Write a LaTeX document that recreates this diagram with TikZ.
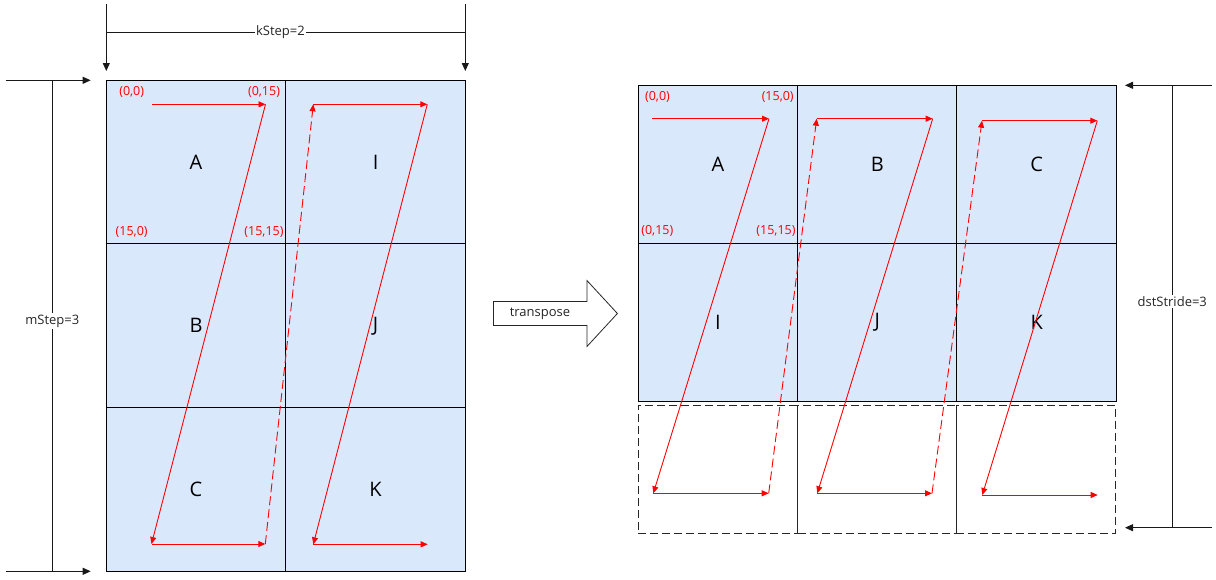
\documentclass[tikz,border=0pt]{standalone}
\usepackage{fontspec}
\setmainfont{Open Sans}
\usetikzlibrary{positioning, arrows.meta, shapes.arrows}
\definecolor{cellblue}{HTML}{DAE8FC}
\tikzstyle{lcell} = [rectangle, minimum width=179.5pt, minimum height=163.67pt, outer sep=0pt, draw=black, line width=1pt, fill=cellblue, font=\fontsize{20}{24}\selectfont]
\tikzstyle{rcell} = [lcell, minimum width=159.33pt, minimum height=158pt]
\tikzstyle{spare} = [rectangle, minimum width=159.33pt, minimum height=128.3pt, outer sep=0pt, draw=black!85, line width=1pt, dash pattern=on 8pt off 4pt]
\tikzstyle{idx} = [text=red, font=\fontsize{12.5}{15}\selectfont, inner sep=0pt]
\tikzstyle{arrow} = [red, line width=0.9pt, -{Triangle[length=7pt,width=6pt]}]
\tikzstyle{jump} = [arrow, dash pattern=on 9pt off 4pt]
\tikzstyle{dim} = [black!90, line width=1pt, -{Triangle[length=8pt,width=7pt]}]
\tikzstyle{dimline} = [black!90, line width=1pt]
\tikzstyle{dimtext} = [fill=white, inner sep=1.5pt, font=\fontsize{13}{15}\selectfont, text=black!85]
\tikzstyle{bigarrow} = [single arrow, draw=black!85, line width=0.8pt, fill=white, minimum height=124pt, minimum width=65pt, single arrow head extend=20.85pt, single arrow tip angle=94.6, inner xsep=0pt, inner ysep=11.65pt]
\tikzstyle{verb} = [font=\fontsize{13}{15}\selectfont, text=black!85]

\begin{document}
\begin{tikzpicture}[x=1pt, y=-1pt]
\useasboundingbox (0,0) rectangle (1216,579);
% source tiles
\node (srcA) [lcell] at (196.05,162.1) {A};
\node (srcI) [lcell, right=0pt of srcA] {I};
\node (srcB) [lcell, below=0pt of srcA] {B};
\node (srcJ) [lcell, right=0pt of srcB] {J};
\node (srcC) [lcell, below=0pt of srcB] {C};
\node (srcK) [lcell, right=0pt of srcC] {K};
% destination tiles
\node (dstA) [rcell] at (717.97,164.3) {A};
\node (dstB) [rcell, right=0pt of dstA] {B};
\node (dstC) [rcell, right=0pt of dstB] {C};
\node (dstI) [rcell, below=0pt of dstA] {I};
\node (dstJ) [rcell, right=0pt of dstI] {J};
\node (dstK) [rcell, right=0pt of dstJ] {K};
\node (padI) [spare, below=3.7pt of dstI] {};
\node (padJ) [spare, right=0pt of padI, minimum width=158.4pt] {};
\node (padK) [spare, right=0pt of padJ] {};
% transpose
\node (tp) [bigarrow, anchor=tail] at (493,313.5) {};
\node (tplabel) [verb] at (540,313.5) {transpose};
% index labels
\node (s00) [idx] at (131.7,91.7) {(0,0)};
\node (s015) [idx] at (264,92) {(0,15)};
\node (s150) [idx] at (131.7,232.3) {(15,0)};
\node (s1515) [idx] at (264,232) {(15,15)};
\node (d00) [idx] at (657.5,96.7) {(0,0)};
\node (d150) [idx] at (777.7,96.7) {(15,0)};
\node (d015) [idx] at (657.3,230.7) {(0,15)};
\node (d1515) [idx] at (776,230.7) {(15,15)};
% source order
\coordinate (p1) at (152,104.3);
\coordinate (p2) at (265.5,104.3);
\coordinate (p3) at (151.5,544);
\coordinate (p4) at (265.3,544);
\coordinate (p5) at (313.3,104.3);
\coordinate (p6) at (427.3,104.3);
\coordinate (p7) at (313.3,544.3);
\coordinate (p8) at (427.7,544.3);
\draw [arrow] (p1) -- (p2);
\draw [arrow] (p2) -- (p3);
\draw [arrow] (p3) -- (p4);
\draw [jump] (p4) -- (p5);
\draw [arrow] (p5) -- (p6);
\draw [arrow] (p6) -- (p7);
\draw [arrow] (p7) -- (p8);
% destination order
\coordinate (q1) at (652.3,118.7);
\coordinate (q2) at (769,118.7);
\coordinate (q3) at (653.3,493.3);
\coordinate (q4) at (768.7,493.3);
\coordinate (q5) at (816.7,118.7);
\coordinate (q6) at (932.7,118.7);
\coordinate (q7) at (817.3,493.3);
\coordinate (q8) at (932,493.3);
\coordinate (q9) at (982,120.7);
\coordinate (q10) at (1097.3,120.7);
\coordinate (q11) at (982.3,495);
\coordinate (q12) at (1097.7,495);
\draw [arrow] (q1) -- (q2);
\draw [arrow] (q2) -- (q3);
\draw [arrow] (q3) -- (q4);
\draw [jump] (q4) -- (q5);
\draw [arrow] (q5) -- (q6);
\draw [arrow] (q6) -- (q7);
\draw [arrow] (q7) -- (q8);
\draw [jump] (q8) -- (q9);
\draw [arrow] (q9) -- (q10);
\draw [arrow] (q10) -- (q11);
\draw [arrow] (q11) -- (q12);
% kStep
\coordinate (kl0) at (106.3,4);
\coordinate (kl1) at (106.3,71);
\coordinate (kr0) at (465.3,4);
\coordinate (kr1) at (465.3,71);
\coordinate (km0) at (106.3,32.3);
\coordinate (km1) at (465.3,32.3);
\draw [dim] (kl0) -- (kl1);
\draw [dim] (kr0) -- (kr1);
\draw [dimline] (km0) -- node [dimtext, pos=0.485] {kStep=2} (km1);
% mStep
\coordinate (mt0) at (5.7,80.3);
\coordinate (mt1) at (90.7,80.3);
\coordinate (mb0) at (5.7,571.3);
\coordinate (mb1) at (90.7,571.3);
\coordinate (mv0) at (52.3,80.3);
\coordinate (mv1) at (52.3,571.3);
\draw [dim] (mt0) -- (mt1);
\draw [dim] (mb0) -- (mb1);
\draw [dimline] (mv0) -- node [dimtext, pos=0.49] {mStep=3} (mv1);
% dstStride
\coordinate (dt0) at (1212,85.3);
\coordinate (dt1) at (1125,85.3);
\coordinate (db0) at (1212,527.7);
\coordinate (db1) at (1125,527.7);
\coordinate (dv0) at (1172.3,85.3);
\coordinate (dv1) at (1172.3,527.7);
\draw [dim] (dt0) -- (dt1);
\draw [dim] (db0) -- (db1);
\draw [dimline] (dv0) -- node [dimtext, pos=0.488] {dstStride=3} (dv1);
\end{tikzpicture}
\end{document}
